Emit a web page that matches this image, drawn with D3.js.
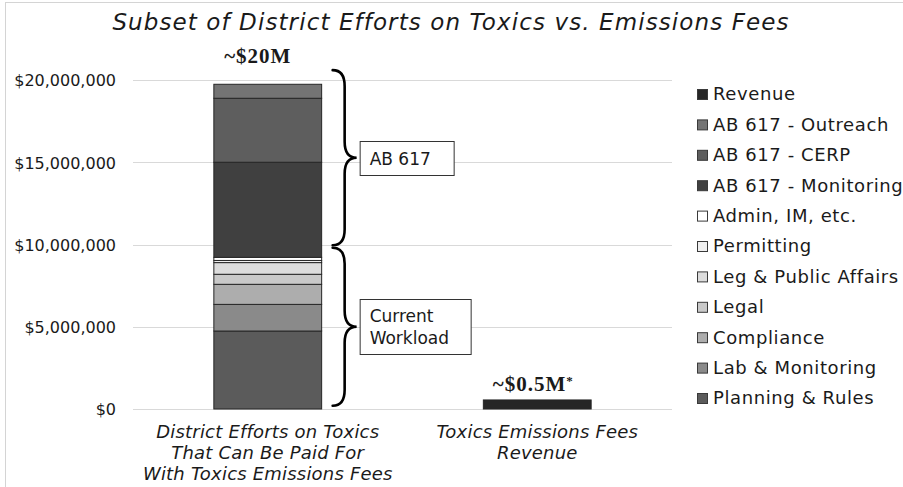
<!DOCTYPE html>
<html>
<head>
<meta charset="utf-8">
<script src="https://cdn.jsdelivr.net/npm/d3@7"></script>
<style>
  body { margin: 0; background: #fff; }
  text { font-family: "DejaVu Sans", Verdana, sans-serif; fill: #1a1a1a; }
</style>
</head>
<body>
<div id="chart"></div>
<script>
// Categories on the x axis
var categories = ["efforts", "revenue"];
var categoryLines = [
  ["District Efforts on Toxics", "That Can Be Paid For", "With Toxics Emissions Fees"],
  ["Toxics Emissions Fees", "Revenue"]
];

// Stacked series, bottom to top, values in dollars
var seriesNames = ["Planning & Rules", "Lab & Monitoring", "Compliance", "Legal",
  "Leg & Public Affairs", "Permitting", "Admin, IM, etc.",
  "AB 617 - Monitoring", "AB 617 - CERP", "AB 617 - Outreach", "Revenue"];
var effortsValues = [4740000, 1620000, 1220000, 610000, 710000, 130000, 190000,
  5780000, 3890000, 850000, 0];
var revenueValues = [0, 0, 0, 0, 0, 0, 0, 0, 0, 0, 550000];
var seriesColors = ["#5b5b5b", "#8a8a8a", "#adadad", "#c9c9c9", "#dcdcdc", "#efefef",
  "#ffffff", "#404040", "#5e5e5e", "#747474", "#262626"];

var totalLabels = ["~$20M", "~$0.5M"];
var yTicks = [0, 5000000, 10000000, 15000000, 20000000];

// Brace annotations: [from, to] in dollars, with text lines
var braceRanges = [[20600000, 9950000], [9800000, 200000]];
var braceTexts = [["AB 617"], ["Current", "Workload"]];

var width = 903, height = 487;

var svg = d3.select("#chart")
  .append("svg")
  .attr("width", width)
  .attr("height", height);

// chart frame
svg.append("rect")
  .attr("x", 5.5).attr("y", 2.5)
  .attr("width", 1000).attr("height", 1000)
  .attr("fill", "none")
  .attr("stroke", "#d4d4d4");

var x = d3.scaleBand().domain(categories).range([133, 672]);
var y = d3.scaleLinear().domain([0, 20000000]).range([409, 80]);
var barW = x.bandwidth() * 0.4;

// gridlines
svg.append("g")
  .selectAll("line")
  .data(yTicks)
  .join("line")
  .attr("x1", 133).attr("x2", 672)
  .attr("y1", d => Math.round(y(d)) + 0.5)
  .attr("y2", d => Math.round(y(d)) + 0.5)
  .attr("stroke", "#d9d9d9");

// y axis labels
var yAxis = svg.append("g")
  .attr("transform", "translate(116,0)")
  .call(d3.axisLeft(y).tickValues(yTicks).tickSize(0).tickPadding(0)
    .tickFormat(d => "$" + d3.format(",")(d)));
yAxis.select(".domain").remove();
yAxis.selectAll("text")
  .attr("font-size", 16)
  .attr("font-family", "DejaVu Sans")
  .attr("fill", "#1a1a1a")
  .attr("dy", "0.36em");

// stacked data
var table = categories.map((c, i) => {
  var row = { cat: c };
  seriesNames.forEach((s, j) => {
    row[s] = i === 0 ? effortsValues[j] : revenueValues[j];
  });
  return row;
});
var stack = d3.stack().keys(seriesNames)(table);

var layers = svg.append("g")
  .selectAll("g")
  .data(stack)
  .join("g")
  .attr("fill", (d, i) => seriesColors[i]);

layers.selectAll("rect")
  .data(d => d.filter(p => p[1] - p[0] > 0))
  .join("rect")
  .attr("x", d => x(d.data.cat) + (x.bandwidth() - barW) / 2)
  .attr("width", barW)
  .attr("y", d => y(d[1]))
  .attr("height", d => y(d[0]) - y(d[1]))
  .attr("stroke", "#262626")
  .attr("stroke-width", 1);

// total labels above bars
var totals = table.map(r => d3.sum(seriesNames, s => r[s]));
var labelOffsets = [21, 9], labelShift = [-10, -4];
var tl = svg.append("g")
  .selectAll("text")
  .data(categories)
  .join("text")
  .attr("x", (d, i) => x(d) + x.bandwidth() / 2 + labelShift[i])
  .attr("y", (d, i) => y(totals[i]) - labelOffsets[i])
  .attr("text-anchor", "middle")
  .style("font-family", "'Liberation Serif', 'Times New Roman', serif")
  .style("font-weight", "bold")
  .style("font-size", "21px")
  .style("letter-spacing", "1px")
  .text((d, i) => totalLabels[i]);
tl.filter((d, i) => i === 1)
  .append("tspan")
  .attr("dy", "-0.45em")
  .style("font-size", "13px")
  .text("*");

// category labels
svg.append("g")
  .selectAll("text")
  .data(categories)
  .join("text")
  .attr("x", d => x(d) + x.bandwidth() / 2)
  .attr("y", 438)
  .attr("text-anchor", "middle")
  .style("font-style", "italic")
  .style("font-size", "18px")
  .style("letter-spacing", "0.2px")
  .each(function(d, i) {
    d3.select(this).selectAll("tspan")
      .data(categoryLines[i])
      .join("tspan")
      .attr("x", x(d) + x.bandwidth() / 2)
      .attr("dy", (t, k) => k === 0 ? 0 : 21)
      .text(t => t);
  });

// braces
function bracePath(x0, ya, yb) {
  var s = 12, t = 24, ym = (ya + yb) / 2;
  var r = Math.min(16, (yb - ya) / 6);
  return "M" + x0 + "," + ya +
    " Q" + (x0 + s) + "," + ya + " " + (x0 + s) + "," + (ya + r) +
    " L" + (x0 + s) + "," + (ym - r) +
    " Q" + (x0 + s) + "," + ym + " " + (x0 + t) + "," + ym +
    " Q" + (x0 + s) + "," + ym + " " + (x0 + s) + "," + (ym + r) +
    " L" + (x0 + s) + "," + (yb - r) +
    " Q" + (x0 + s) + "," + yb + " " + x0 + "," + yb;
}

var braceX = x(categories[0]) + (x.bandwidth() + barW) / 2 + 11;
svg.append("g")
  .selectAll("path")
  .data(braceRanges)
  .join("path")
  .attr("d", d => bracePath(braceX, y(d[0]), y(d[1])))
  .attr("fill", "none")
  .attr("stroke", "#000")
  .attr("stroke-width", 2.6)
  .attr("stroke-linecap", "round");

// annotation boxes
var boxW = [94, 111], boxH = [34, 55];
braceRanges.forEach((d, i) => {
  var ym = (y(d[0]) + y(d[1])) / 2;
  var bx = braceX + 27;
  var by = Math.round(ym - boxH[i] / 2) + 0.5;
  svg.append("rect")
    .attr("x", bx + 0.5).attr("y", by)
    .attr("width", boxW[i]).attr("height", boxH[i])
    .attr("fill", "#fff")
    .attr("stroke", "#333");
  var t = svg.append("text")
    .attr("x", bx + 10)
    .attr("y", by + (i === 0 ? 23 : 22))
    .style("font-size", "17px");
  t.selectAll("tspan")
    .data(braceTexts[i])
    .join("tspan")
    .attr("x", bx + 10)
    .attr("dy", (s, k) => k === 0 ? 0 : 22)
    .text(s => s);
});

// title
svg.append("text")
  .attr("x", 451)
  .attr("y", 30)
  .attr("text-anchor", "middle")
  .style("font-style", "italic")
  .style("font-size", "23px")
  .style("letter-spacing", "1.1px")
  .text("Subset of District Efforts on Toxics vs. Emissions Fees");

// legend, top to bottom in reverse stack order
var legendOrder = seriesNames.map((s, i) => i).reverse();
var legend = svg.append("g")
  .selectAll("g")
  .data(legendOrder)
  .join("g")
  .attr("transform", (d, k) => "translate(697," + (94 + k * 30.4) + ")");
legend.append("rect")
  .attr("x", 0.5).attr("y", -4.5)
  .attr("width", 10).attr("height", 10)
  .attr("fill", d => seriesColors[d])
  .attr("stroke", "#3a3a3a");
legend.append("text")
  .attr("x", 16)
  .attr("y", 0)
  .attr("dy", "0.36em")
  .style("font-size", "18px")
  .style("letter-spacing", "0.6px")
  .text(d => seriesNames[d]);
</script>
</body>
</html>
